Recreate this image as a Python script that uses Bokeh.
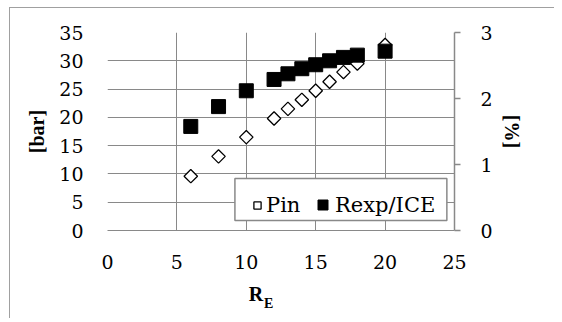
import math
from bokeh.plotting import figure
from bokeh.models import (Range1d, LinearAxis, FixedTicker, Legend, LegendItem, BoxAnnotation)
from bokeh.embed import file_html
from bokeh.resources import INLINE

# ---- data ----
re_values = [6, 8, 10, 12, 13, 14, 15, 16, 17, 18, 20]
pin_bar = [9.6, 13.1, 16.5, 19.8, 21.5, 23.1, 24.7, 26.3, 28.0, 29.5, 32.8]
rexp_ice = [18.4, 21.9, 24.7, 26.7, 27.7, 28.6, 29.3, 30.0, 30.6, 31.0, 31.7]
x_ticks = [0, 5, 10, 15, 20, 25]
y_ticks = [0, 5, 10, 15, 20, 25, 30, 35]
y2_ticks = [0, 1, 2, 3]
series_names = ["Pin", "Rexp/ICE"]

F_REG = "DejaVu Serif"
F_TITLE = "Liberation Serif"
TICK_SIZE = "19px"
GRID = "#898989"
NB = "\u00a0"

p = figure(frame_width=347, frame_height=198,
           min_border_left=97, min_border_right=100,
           min_border_top=24, min_border_bottom=88,
           x_range=Range1d(0, 25), y_range=Range1d(0, 35),
           output_backend="svg", toolbar_location=None)
p.margin = (7, 0, 0, 9)
p.styles = {"border-left": "1px solid #a0a0a0", "border-top": "1px solid #a0a0a0"}
p.outline_line_color = None
p.background_fill_color = "white"
p.border_fill_color = "white"
p.extra_y_ranges = {"pct": Range1d(0, 3)}

p.xgrid.ticker = FixedTicker(ticks=x_ticks)
p.ygrid.ticker = FixedTicker(ticks=y_ticks)
for g in (p.xgrid, p.ygrid):
    g.grid_line_color = GRID
    g.grid_line_width = 1

def no_ticks(ax):
    ax.major_tick_out = 0
    ax.major_tick_in = 0
    ax.minor_tick_out = 0
    ax.minor_tick_in = 0

# bottom axis (tick labels + "R")
xa = p.xaxis[0]
xa.ticker = FixedTicker(ticks=x_ticks)
xa.axis_line_color = GRID
xa.axis_line_width = 1
no_ticks(xa)
xa.major_label_standoff = 24
xa.major_label_text_font = F_REG
xa.major_label_text_font_size = TICK_SIZE
xa.major_label_text_color = "black"
xa.axis_label = "R" + NB * 10
xa.axis_label_text_font = F_TITLE
xa.axis_label_text_font_size = "20px"
xa.axis_label_text_font_style = "bold"
xa.axis_label_text_color = "black"
xa.axis_label_standoff = 11

# subscript "E" as a second, empty bottom axis
xa2 = LinearAxis(ticker=FixedTicker(ticks=[]))
xa2.axis_line_color = None
no_ticks(xa2)
xa2.major_label_text_font_size = "0px"
xa2.axis_label = "E" + NB * 7
xa2.axis_label_text_font = F_TITLE
xa2.axis_label_text_font_size = "14px"
xa2.axis_label_text_font_style = "bold"
xa2.axis_label_text_color = "black"
xa2.axis_label_standoff = -12
p.add_layout(xa2, "below")

# left axis
ya = p.yaxis[0]
ya.ticker = FixedTicker(ticks=y_ticks)
ya.axis_line_color = None
no_ticks(ya)
ya.major_label_standoff = 24
ya.major_label_text_font = F_REG
ya.major_label_text_font_size = TICK_SIZE
ya.major_label_text_color = "black"
ya.axis_label = "[bar]"
ya.axis_label_text_font = F_TITLE
ya.axis_label_text_font_size = "20px"
ya.axis_label_text_font_style = "bold"
ya.axis_label_text_color = "black"
ya.axis_label_standoff = 8

# right axis
ra = LinearAxis(y_range_name="pct", ticker=FixedTicker(ticks=y2_ticks))
ra.axis_line_color = GRID
ra.axis_line_width = 1.5
no_ticks(ra)
ra.major_tick_out = 6
ra.major_tick_line_color = GRID
ra.major_tick_line_width = 1.5
ra.major_label_standoff = 20
ra.major_label_text_font = F_REG
ra.major_label_text_font_size = TICK_SIZE
ra.major_label_text_color = "black"
ra.axis_label = "[%]"
ra.axis_label_text_font = F_TITLE
ra.axis_label_text_font_size = "20px"
ra.axis_label_text_font_style = "bold"
ra.axis_label_text_color = "black"
ra.axis_label_standoff = 5
p.add_layout(ra, "right")

# series
r_pin = p.scatter(re_values, pin_bar, marker="square", angle=math.pi / 4,
                  size=9.5, fill_color="white", line_color="black", line_width=1.3)
r_rexp = p.scatter(re_values, rexp_ice, marker="square", size=14,
                   fill_color="black", line_color="black", line_width=1)

# legend frame (white box with grey border)
legend_box = BoxAnnotation(left=9.18, right=24.45, bottom=1.77, top=9.19,
                           fill_color="white", fill_alpha=1,
                           line_color=GRID, line_width=1.5, line_alpha=1)
p.add_layout(legend_box)

def make_legend(item, loc, gw, gh):
    lg = Legend(items=[item], orientation="horizontal", location=loc)
    lg.margin = 0
    lg.padding = 5
    lg.spacing = 0
    lg.glyph_width = gw
    lg.glyph_height = gh
    lg.label_height = 24
    lg.label_standoff = 0
    lg.label_text_font = F_REG
    lg.label_text_font_size = "21px"
    lg.label_text_color = "black"
    lg.border_line_color = None
    lg.background_fill_alpha = 0
    return lg

p.add_layout(make_legend(LegendItem(label=series_names[0], renderers=[r_pin]),
                         (141, 13), 18, 24), "center")
p.add_layout(make_legend(LegendItem(label=series_names[1], renderers=[r_rexp]),
                         (203, 13), 25, 25), "center")

open("out.html", "w").write(file_html(p, INLINE))
